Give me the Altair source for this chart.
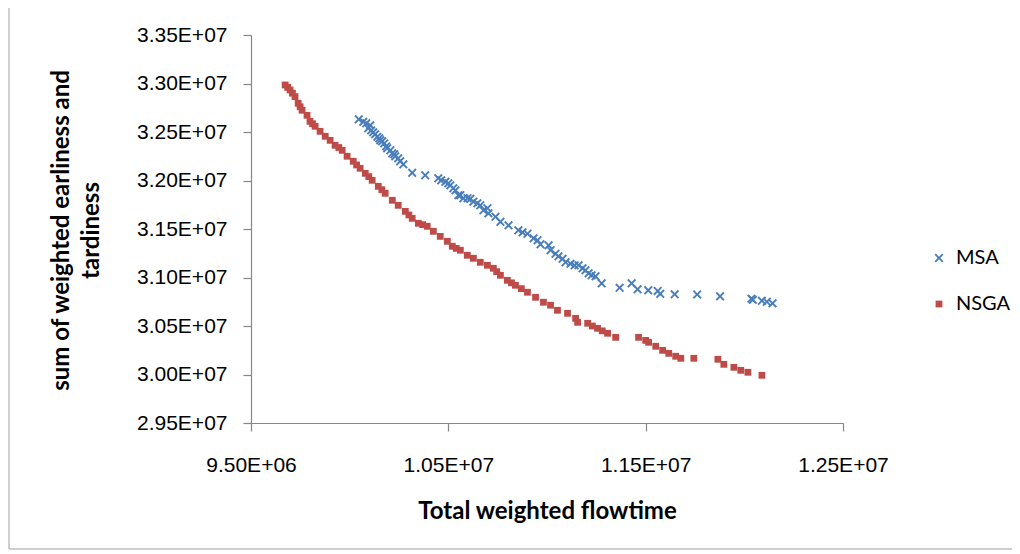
import altair as alt
import pandas as pd

# ---- data ----
msa_x = [10.046e6, 10.069e6, 10.084e6, 10.104e6, 10.094e6, 10.109e6, 10.119e6, 10.129e6, 10.140e6, 10.150e6,
         10.155e6, 10.165e6, 10.175e6, 10.185e6, 10.190e6, 10.206e6, 10.216e6, 10.226e6, 10.231e6, 10.246e6,
         10.256e6, 10.272e6, 10.317e6, 10.383e6, 10.449e6, 10.464e6, 10.485e6, 10.500e6, 10.510e6, 10.525e6,
         10.536e6, 10.551e6, 10.561e6, 10.576e6, 10.597e6, 10.612e6, 10.627e6, 10.647e6, 10.662e6, 10.678e6,
         10.698e6, 10.703e6, 10.739e6, 10.764e6, 10.805e6, 10.855e6, 10.876e6, 10.901e6, 10.932e6, 10.952e6,
         10.967e6, 11.008e6, 11.018e6, 11.043e6, 11.058e6, 11.079e6, 11.094e6, 11.119e6, 11.140e6, 11.160e6,
         11.180e6, 11.195e6, 11.211e6, 11.226e6, 11.246e6, 11.277e6, 11.368e6, 11.429e6, 11.459e6, 11.513e6,
         11.561e6, 11.574e6, 11.647e6, 11.761e6, 11.877e6, 12.036e6, 12.043e6, 12.089e6, 12.114e6, 12.143e6]
msa_y = [3.2631e7, 3.2605e7, 3.2590e7, 3.2569e7, 3.2538e7, 3.2517e7, 3.2497e7, 3.2476e7, 3.2450e7, 3.2435e7,
         3.2414e7, 3.2404e7, 3.2383e7, 3.2352e7, 3.2332e7, 3.2311e7, 3.2280e7, 3.2270e7, 3.2249e7, 3.2229e7,
         3.2198e7, 3.2167e7, 3.2079e7, 3.2054e7, 3.2023e7, 3.2002e7, 3.1987e7, 3.1971e7, 3.1950e7, 3.1920e7,
         3.1899e7, 3.1848e7, 3.1848e7, 3.1817e7, 3.1817e7, 3.1811e7, 3.1781e7, 3.1765e7, 3.1744e7, 3.1693e7,
         3.1714e7, 3.1662e7, 3.1626e7, 3.1574e7, 3.1538e7, 3.1487e7, 3.1466e7, 3.1451e7, 3.1404e7, 3.1384e7,
         3.1342e7, 3.1332e7, 3.1281e7, 3.1244e7, 3.1219e7, 3.1193e7, 3.1157e7, 3.1141e7, 3.1126e7, 3.1126e7,
         3.1095e7, 3.1074e7, 3.1043e7, 3.1023e7, 3.1012e7, 3.0940e7, 3.0894e7, 3.0940e7, 3.0878e7, 3.0868e7,
         3.0861e7, 3.0832e7, 3.0827e7, 3.0825e7, 3.0806e7, 3.0782e7, 3.0770e7, 3.0760e7, 3.0750e7, 3.0734e7]

nsga_x = [9.673e6, 9.686e6, 9.698e6, 9.710e6, 9.723e6, 9.739e6, 9.749e6, 9.759e6, 9.784e6, 9.799e6,
          9.812e6, 9.825e6, 9.850e6, 9.876e6, 9.901e6, 9.926e6, 9.945e6, 9.962e6, 9.987e6, 10.018e6,
          10.035e6, 10.053e6, 10.079e6, 10.097e6, 10.114e6, 10.145e6, 10.163e6, 10.180e6, 10.216e6, 10.246e6,
          10.282e6, 10.300e6, 10.317e6, 10.348e6, 10.370e6, 10.393e6, 10.424e6, 10.459e6, 10.495e6, 10.520e6,
          10.540e6, 10.561e6, 10.596e6, 10.627e6, 10.662e6, 10.698e6, 10.728e6, 10.745e6, 10.764e6, 10.799e6,
          10.820e6, 10.840e6, 10.870e6, 10.901e6, 10.942e6, 10.982e6, 11.018e6, 11.053e6, 11.104e6, 11.145e6,
          11.155e6, 11.206e6, 11.230e6, 11.256e6, 11.280e6, 11.307e6, 11.348e6, 11.464e6, 11.500e6, 11.515e6,
          11.551e6, 11.586e6, 11.617e6, 11.652e6, 11.678e6, 11.744e6, 11.866e6, 11.896e6, 11.947e6, 11.982e6,
          12.018e6, 12.089e6]
nsga_y = [3.2985e7, 3.2960e7, 3.2933e7, 3.2900e7, 3.2865e7, 3.2796e7, 3.2760e7, 3.2724e7, 3.2672e7, 3.2610e7,
          3.2585e7, 3.2559e7, 3.2507e7, 3.2456e7, 3.2414e7, 3.2363e7, 3.2340e7, 3.2311e7, 3.2250e7, 3.2198e7,
          3.2160e7, 3.2126e7, 3.2074e7, 3.2040e7, 3.2002e7, 3.1940e7, 3.1905e7, 3.1868e7, 3.1796e7, 3.1744e7,
          3.1682e7, 3.1645e7, 3.1610e7, 3.1559e7, 3.1545e7, 3.1528e7, 3.1476e7, 3.1424e7, 3.1373e7, 3.1322e7,
          3.1300e7, 3.1281e7, 3.1229e7, 3.1198e7, 3.1157e7, 3.1126e7, 3.1095e7, 3.1060e7, 3.1023e7, 3.0971e7,
          3.0945e7, 3.0920e7, 3.0885e7, 3.0848e7, 3.0796e7, 3.0745e7, 3.0714e7, 3.0662e7, 3.0631e7, 3.0579e7,
          3.0538e7, 3.0528e7, 3.0500e7, 3.0476e7, 3.0450e7, 3.0425e7, 3.0383e7, 3.0383e7, 3.0352e7, 3.0332e7,
          3.0291e7, 3.0249e7, 3.0218e7, 3.0188e7, 3.0167e7, 3.0167e7, 3.0157e7, 3.0105e7, 3.0074e7, 3.0043e7,
          3.0023e7, 2.9992e7]

series_names = ["MSA", "NSGA"]
series_colors = ["#4A7EBB", "#BE4B48"]

x_ticks = [9.5e6, 10.5e6, 11.5e6, 12.5e6]
x_labels = ["9.50E+06", "1.05E+07", "1.15E+07", "1.25E+07"]
y_ticks = [2.95e7, 3.00e7, 3.05e7, 3.10e7, 3.15e7, 3.20e7, 3.25e7, 3.30e7, 3.35e7]
y_labels = ["2.95E+07", "3.00E+07", "3.05E+07", "3.10E+07", "3.15E+07",
            "3.20E+07", "3.25E+07", "3.30E+07", "3.35E+07"]

x_title = "Total weighted flowtime"
y_title = ["sum of weighted earliness and", "tardiness"]

# ---- build table ----
df = pd.concat([
    pd.DataFrame({"flow": msa_x, "et": msa_y, "series": series_names[0]}),
    pd.DataFrame({"flow": nsga_x, "et": nsga_y, "series": series_names[1]}),
], ignore_index=True)


def label_expr(vals, labs):
    v = ",".join(repr(float(a)) for a in vals)
    l = ",".join("'" + s + "'" for s in labs)
    return f"[{l}][indexof([{v}], datum.value)]"


X_PATH = ("M-1,-0.7L-0.7,-1L0,-0.3L0.7,-1L1,-0.7L0.3,0L1,0.7L0.7,1"
          "L0,0.3L-0.7,1L-1,0.7L-0.3,0Z")

legend = alt.Legend(title=None, orient="none", legendX=678, legendY=213,
                    labelFont="Lato", labelFontSize=20, labelColor="#000000",
                    rowPadding=26, labelOffset=7)

points = alt.Chart(df).mark_point(filled=True, opacity=1, strokeWidth=0).encode(
    x=alt.X("flow:Q",
            scale=alt.Scale(domain=[9.5e6, 12.5e6], nice=False, zero=False),
            axis=alt.Axis(values=x_ticks, labelExpr=label_expr(x_ticks, x_labels),
                          title=x_title, labelPadding=23, titlePadding=24,
                          labelFlush=False)),
    y=alt.Y("et:Q",
            scale=alt.Scale(domain=[2.95e7, 3.35e7], nice=False, zero=False),
            axis=alt.Axis(values=y_ticks, labelExpr=label_expr(y_ticks, y_labels),
                          title=y_title, labelPadding=16,
                          titleX=-190, titleY=195, titleAngle=-90,
                          titleAlign="center", titleBaseline="middle",
                          titleLineHeight=30)),
    color=alt.Color("series:N", scale=alt.Scale(domain=series_names, range=series_colors),
                    legend=legend),
    shape=alt.Shape("series:N", scale=alt.Scale(domain=series_names, range=[X_PATH, "square"]),
                    legend=legend),
    size=alt.Size("series:N", scale=alt.Scale(domain=series_names, range=[80, 46]),
                  legend=legend),
)

frame = pd.DataFrame({"k": [0]})
left_border = alt.Chart(frame).mark_rule(color="#a0a0a0", strokeWidth=1).encode(
    x=alt.value(-242), y=alt.value(-27), y2=alt.value(514))
bottom_border = alt.Chart(frame).mark_rule(color="#a0a0a0", strokeWidth=1).encode(
    x=alt.value(-242), x2=alt.value(761), y=alt.value(514))

chart = alt.layer(left_border, bottom_border, points).properties(
    width=592, height=388,
    autosize=alt.AutoSizeParams(type="none"),
    padding={"left": 243, "top": 27, "right": 169, "bottom": 131},
    background="white",
).configure_view(stroke=None).configure_axis(
    grid=False,
    domainColor="#868686", tickColor="#868686", domainWidth=1.2, tickWidth=1.2,
    tickSize=8,
    labelFont="Liberation Sans", labelFontSize=21, labelColor="#000000",
    titleFont="Lato", titleFontSize=24, titleFontWeight="bold", titleColor="#000000",
)

chart.save("out.html", embed_options={"renderer": "svg", "actions": False})
